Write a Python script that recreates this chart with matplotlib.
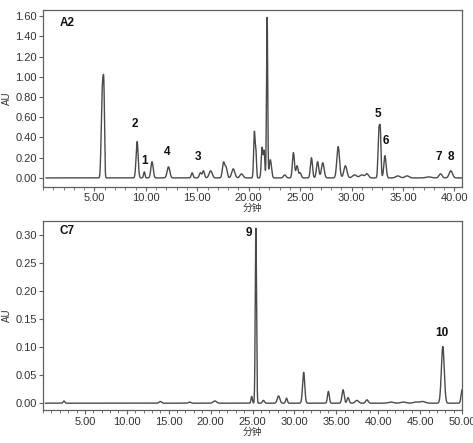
import matplotlib.pyplot as plt
import numpy as np
from matplotlib.ticker import MultipleLocator, FormatStrFormatter

plt.rcParams['font.family'] = ['Liberation Sans', 'Noto Sans CJK SC', 'DejaVu Sans']

# ---- A2 peak table: retention time (min), height (AU), width sigma (min)
a2_rt = [5.66, 5.80, 5.93, 9.15, 9.85, 10.6, 12.2, 14.5, 15.3, 15.6, 16.3,
         17.55, 17.8, 18.5, 19.3, 20.55, 20.7, 21.3, 21.5, 21.72, 21.8, 22.1,
         23.5, 24.35, 24.7, 25.0, 26.1, 26.7, 27.2, 28.7, 29.4, 30.3, 31.0,
         31.5, 32.65, 32.8, 33.25, 34.5, 35.4, 37.5, 38.65, 39.65]
a2_h = [0.20, 0.89, 0.60, 0.36, 0.06, 0.16, 0.11, 0.05, 0.05, 0.07, 0.07,
        0.15, 0.10, 0.09, 0.04, 0.45, 0.25, 0.30, 0.26, 0.30, 1.54, 0.18,
        0.03, 0.25, 0.12, 0.05, 0.20, 0.16, 0.15, 0.31, 0.12, 0.03, 0.03,
        0.04, 0.45, 0.42, 0.22, 0.02, 0.02, 0.01, 0.04, 0.07]
a2_w = [0.07, 0.09, 0.06, 0.10, 0.07, 0.11, 0.13, 0.09, 0.10, 0.10, 0.15,
        0.11, 0.11, 0.15, 0.15, 0.07, 0.06, 0.08, 0.07, 0.04, 0.05, 0.11,
        0.12, 0.10, 0.10, 0.10, 0.10, 0.11, 0.13, 0.13, 0.15, 0.20, 0.20,
        0.15, 0.08, 0.07, 0.11, 0.20, 0.20, 0.25, 0.15, 0.16]
a2_lab = ['1', '2', '3', '4', '5', '6', '7', '8']
a2_lab_x = [9.85, 8.95, 15.1, 12.1, 32.6, 33.3, 38.5, 39.65]
a2_lab_y = [0.11, 0.47, 0.15, 0.20, 0.57, 0.31, 0.15, 0.15]

# ---- C7 peak table
c7_rt = [2.5, 14.0, 17.5, 20.5, 24.9, 25.4, 26.3, 28.1, 29.05, 31.1, 34.05,
         35.8, 36.4, 37.45, 38.65, 41.5, 43.0, 44.5, 45.3, 47.7, 50.0]
c7_h = [0.004, 0.003, 0.002, 0.004, 0.012, 0.312, 0.005, 0.013, 0.009,
        0.055, 0.021, 0.024, 0.010, 0.005, 0.006, 0.002, 0.002, 0.002,
        0.003, 0.101, 0.024]
c7_w = [0.10, 0.15, 0.15, 0.20, 0.08, 0.075, 0.12, 0.15, 0.10, 0.13, 0.11,
        0.13, 0.12, 0.20, 0.15, 0.30, 0.30, 0.30, 0.30, 0.17, 0.12]
c7_lab = ['9', '10']
c7_lab_x = [24.6, 47.6]
c7_lab_y = [0.292, 0.115]


def trace(t, rt, h, w):
    y = np.zeros_like(t)
    for r, a, s in zip(rt, h, w):
        y += a * np.exp(-0.5 * ((t - r) / s) ** 2)
    return y


line_c = '#4a4a4a'
axis_c = '#606060'

fig = plt.figure(figsize=(4.73, 4.43), dpi=100)
ax1 = fig.add_axes([0.0909, 0.579, 0.885, 0.398])
ax2 = fig.add_axes([0.0909, 0.0734, 0.886, 0.428])

t1 = np.linspace(0.3, 40.7, 6000)
ax1.plot(t1, trace(t1, a2_rt, a2_h, a2_w), color=line_c, lw=1.0)
ax1.set_xlim(0, 40.7)
ax1.set_ylim(-0.085, 1.66)
ax1.yaxis.set_major_locator(MultipleLocator(0.2))
for s, lx, ly in zip(a2_lab, a2_lab_x, a2_lab_y):
    ax1.text(lx, ly, s, ha='center', va='bottom', fontsize=8.5,
             fontweight='bold', color='#111')
ax1.text(0.04, 0.93, 'A2', transform=ax1.transAxes, fontsize=8.5,
         fontweight='bold', color='#111', va='center')

t2 = np.linspace(0.3, 50, 8000)
ax2.plot(t2, trace(t2, c7_rt, c7_h, c7_w), color=line_c, lw=1.0)
ax2.set_xlim(0, 50)
ax2.set_ylim(-0.013, 0.325)
ax2.yaxis.set_major_locator(MultipleLocator(0.05))
for s, lx, ly in zip(c7_lab, c7_lab_x, c7_lab_y):
    ax2.text(lx, ly, s, ha='center', va='bottom', fontsize=8.5,
             fontweight='bold', color='#111')
ax2.text(0.04, 0.945, 'C7', transform=ax2.transAxes, fontsize=8.5,
         fontweight='bold', color='#111', va='center')

for ax in (ax1, ax2):
    ax.xaxis.set_major_locator(MultipleLocator(5))
    ax.xaxis.set_minor_locator(MultipleLocator(1))
    ax.xaxis.set_major_formatter(FormatStrFormatter('%.2f'))
    ax.yaxis.set_major_formatter(FormatStrFormatter('%.2f'))
    ax.tick_params(direction='out', length=3, width=0.8, colors=axis_c,
                   labelsize=8, labelcolor='#333', pad=1.5)
    ax.tick_params(which='minor', direction='out', length=1.8, width=0.6,
                   colors=axis_c)
    for sp in ax.spines.values():
        sp.set_color(axis_c)
        sp.set_linewidth(0.9)
    ax.set_xlabel('分钟', fontsize=7, color='#333', labelpad=0)
    ax.set_ylabel('AU', fontsize=7, color='#333', labelpad=2)
ax1.set_xticks([5, 10, 15, 20, 25, 30, 35, 40])
ax2.set_xticks([5, 10, 15, 20, 25, 30, 35, 40, 45, 50])

fig.savefig('out.png', dpi=100)
